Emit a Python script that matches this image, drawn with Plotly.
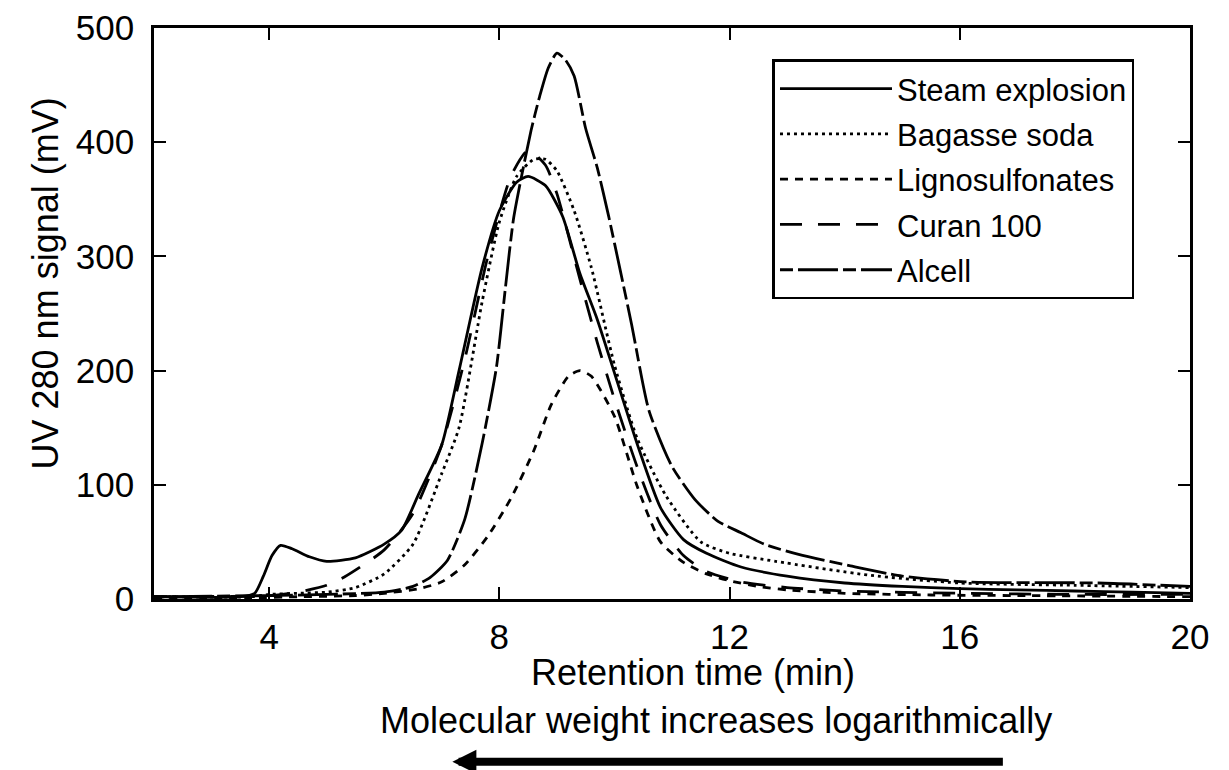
import plotly.graph_objects as go

# ---- data (retention time in min, UV signal in mV) ----
steam_x = [2, 3.5, 3.75, 3.9, 4.05, 4.2, 4.4, 4.7, 5.0, 5.5, 6.0, 6.3, 6.6, 7.0, 7.3, 7.7, 8.0, 8.3, 8.5,
           8.8, 9.1, 9.4, 9.7, 10.0, 10.4, 10.8, 11.2, 11.6, 12.2, 13, 14, 15, 16, 17, 18, 19, 20]
steam_y = [2, 2, 5, 20, 38, 47, 44, 37, 33, 36, 48, 60, 92, 135, 200, 290, 340, 365, 370,
           362, 335, 285, 245, 198, 135, 80, 52, 40, 28, 20, 14, 11, 9, 8, 7, 6, 5]

bagasse_x = [2, 3.7, 4.0, 4.5, 5.0, 5.5, 6.0, 6.5, 7.0, 7.3, 7.7, 8.0, 8.3, 8.6, 8.8, 9.0, 9.3, 9.6,
             10.0, 10.4, 10.9, 11.5, 12.0, 12.8, 14.4, 16, 18, 20]
bagasse_y = [2, 2, 4, 5, 6, 10, 22, 48, 110, 150, 260, 330, 370, 385, 385, 375, 340, 290,
             205, 140, 90, 50, 40, 33, 21, 14, 12, 10]

ligno_x = [2, 3.7, 4.5, 5.5, 6.0, 6.6, 7.0, 7.4, 7.8, 8.2, 8.6, 8.9, 9.2, 9.4, 9.6, 10.0, 10.4,
           10.8, 11.2, 11.6, 12.0, 12.5, 13.0, 14.0, 15.5, 17, 20]
ligno_y = [1, 1, 2, 3, 5, 9, 15, 30, 55, 88, 130, 170, 195, 200, 195, 160, 98,
           50, 32, 22, 16, 11, 8, 5, 3.5, 3, 2]

curan_x = [2, 4.0, 4.5, 5.0, 5.3, 6.0, 6.5, 7.0, 7.4, 7.8, 8.2, 8.5, 8.8, 9.0, 9.4, 9.7, 10.0,
           10.4, 10.8, 11.2, 11.6, 12.2, 13, 14, 16, 18, 20]
curan_y = [2, 3, 6, 12, 19, 43, 75, 135, 210, 300, 370, 393, 380, 355, 280, 225, 175,
           115, 65, 38, 24, 15, 10, 7, 5, 4, 4]

alcell_x = [2, 4.0, 5.0, 6.0, 6.5, 6.8, 7.1, 7.4, 7.7, 7.95, 8.1, 8.25, 8.55, 8.7, 8.85, 9.0, 9.15,
            9.3, 9.5, 9.7, 9.9, 10.1, 10.3, 10.6, 11.0, 11.4, 11.8, 12.2, 12.6, 13.2, 14.1, 15.0,
            16.1, 18.4, 20]
alcell_y = [2, 3, 4, 6, 11, 19, 34, 70, 136, 203, 270, 334, 410, 440, 465, 478, 472,
            458, 412, 378, 335, 288, 240, 165, 116, 87, 68, 58, 48, 39, 29, 20,
            15, 14, 11]

series = [
    ("Steam explosion", steam_x, steam_y, "solid"),
    ("Bagasse soda", bagasse_x, bagasse_y, "3px,4px"),
    ("Lignosulfonates", ligno_x, ligno_y, "8px,7px"),
    ("Curan 100", curan_x, curan_y, "22px,16px"),
    ("Alcell", alcell_x, alcell_y, "13px,5px,40px,5px"),
]

x_ticks = [4, 8, 12, 16, 20]
y_ticks = [0, 100, 200, 300, 400, 500]

FONT = "Arial, Liberation Sans, sans-serif"

fig = go.Figure()
for i, (name, xs, ys, dash) in enumerate(series):
    fig.add_trace(go.Scatter(x=xs, y=ys, mode="lines", name=name, legendgroup=f"g{i}",
                             line=dict(color="black", width=2.8, dash=dash, shape="spline",
                                       smoothing=0.6)))

axis_common = dict(showline=True, linecolor="black", linewidth=2.5, mirror="ticks",
                   ticks="inside", ticklen=12, tickwidth=2, tickcolor="black",
                   showgrid=False, zeroline=False, automargin=False,
                   tickfont=dict(family=FONT, size=35, color="black"))

fig.update_xaxes(range=[2, 20], tickvals=x_ticks, ticktext=[str(v) for v in x_ticks],
                 ticklabelstandoff=5, **axis_common)
fig.update_yaxes(range=[0, 500], tickvals=y_ticks, ticktext=[str(v) for v in y_ticks],
                 ticklabelstandoff=10, **axis_common)

fig.update_layout(
    width=1229, height=770,
    margin=dict(l=146, r=47, t=20, b=179),
    plot_bgcolor="white", paper_bgcolor="white",
    font=dict(family=FONT, color="black"),
    legend=dict(x=0.597, y=0.945, xanchor="left", yanchor="top",
                bordercolor="black", borderwidth=2.5, bgcolor="white",
                font=dict(family=FONT, size=31, color="black"),
                itemwidth=112, tracegroupgap=2),
    annotations=[
        dict(text="Retention time (min)", xref="paper", yref="paper", x=0.52, y=-0.128,
             showarrow=False, font=dict(family=FONT, size=36, color="black"),
             xanchor="center", yanchor="middle"),
        dict(text="UV 280 nm signal (mV)", xref="paper", yref="paper", x=-0.105, y=0.553,
             textangle=-90, showarrow=False, font=dict(family=FONT, size=36, color="black"),
             xanchor="center", yanchor="middle"),
        dict(text="Molecular weight increases logarithmically", xref="paper", yref="paper",
             x=0.542, y=-0.212, showarrow=False,
             font=dict(family=FONT, size=36, color="black"),
             xanchor="center", yanchor="middle"),
        dict(text="", xref="paper", yref="paper", x=0.288, y=-0.285,
             ax=552, ay=0, showarrow=True, arrowhead=2, arrowsize=0.6,
             arrowwidth=8, arrowcolor="black"),
    ],
)

fig.write_html("out.html")
